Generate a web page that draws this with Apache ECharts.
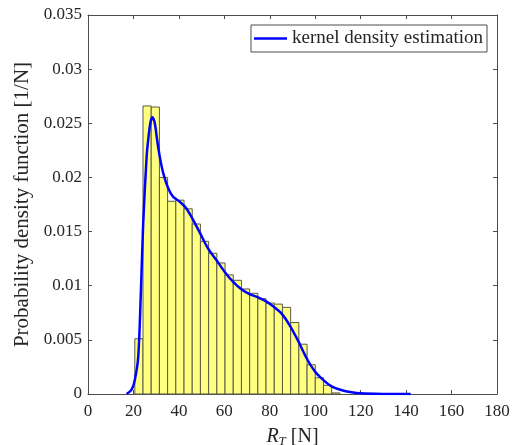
<!DOCTYPE html>
<html>
<head>
<meta charset="utf-8">
<script src="https://cdn.jsdelivr.net/npm/echarts@6/dist/echarts.min.js"></script>
<style>
  html, body { margin: 0; padding: 0; background: #fff; }
  #chart { width: 512px; height: 445px; }
</style>
</head>
<body>
<div id="chart"></div>
<script>
// histogram bins
const binStart = 20.6;
const binWidth = 3.61;
const binValues = [
  0.0051, 0.0266, 0.0265, 0.0200, 0.0178, 0.0179, 0.0171, 0.0157, 0.0141, 0.0130,
  0.0121, 0.0110, 0.0105, 0.0097, 0.0093, 0.0088, 0.0084, 0.0083, 0.0080, 0.0066,
  0.0046, 0.0027, 0.0015, 0.0008, 0.0001
];

// kernel density estimation curve
const kdeX = [17.0, 19.2, 20.6, 22.1, 23.3, 24.3, 25.8, 26.5, 27.5, 28.4, 29.4, 30.4, 31.6, 33.1,
  35.3, 37.5, 40.4, 43.3, 46.2, 49.2, 52.8, 56.5, 60.1, 63.8, 67.5, 71.1, 74.8, 78.4,
  82.1, 85.3, 88.9, 92.5, 96.2, 99.8, 103.5, 107.2, 111.4, 116.0, 120.0, 130.0, 142.0];
const kdeY = [0.0000, 0.0004, 0.0013, 0.0034, 0.0096, 0.0158, 0.0219, 0.0235, 0.0251, 0.02555, 0.0250, 0.0235, 0.0219, 0.0204,
  0.0190, 0.0182, 0.01776, 0.01714, 0.0161, 0.0149, 0.01345, 0.01237, 0.0113, 0.01037, 0.00967, 0.00923, 0.00893, 0.00855,
  0.0080, 0.0074, 0.0063, 0.0049, 0.0033, 0.0021, 0.0013, 0.0007, 0.00037, 0.00016, 0.00006, 0.00001, 0.0];

const xTicks = { min: 0, max: 180, interval: 20 };
const yTicks = { min: 0, max: 0.035, interval: 0.005 };

const font = 'Liberation Serif';
const axisColor = '#4d4d4d';
const textColor = '#262626';

const chart = echarts.init(document.getElementById('chart'));

const histData = binValues.map((v, i) => [binStart + i * binWidth, binStart + (i + 1) * binWidth, v]);
const kdeData = kdeX.map((x, i) => [x, kdeY[i]]);

// box axes with inside ticks, like matlab
const baseAxis = {
  axisLine: { show: true, onZero: false, lineStyle: { color: axisColor, width: 1 } },
  axisTick: { show: true, inside: true, length: 4, lineStyle: { color: axisColor } },
  splitLine: { show: false }
};

chart.setOption({
  animation: false,
  grid: { left: 88, right: 15, top: 15, bottom: 51, outerBoundsMode: 'none', containLabel: false },
  legend: {
    right: 25,
    top: 25,
    data: ['kernel density estimation'],
    icon: 'rect',
    itemWidth: 33,
    itemHeight: 2.5,
    itemGap: 4,
    padding: [4, 4, 4, 3],
    borderColor: axisColor,
    borderWidth: 1,
    borderRadius: 0,
    backgroundColor: '#fff',
    textStyle: { fontFamily: font, fontSize: 19, color: textColor, padding: [0, 0, 0, 0] }
  },
  xAxis: [
    Object.assign({}, baseAxis, {
      type: 'value',
      min: xTicks.min, max: xTicks.max, interval: xTicks.interval,
      axisLabel: { fontFamily: font, fontSize: 17, color: textColor, margin: 9 },
      name: '{i|R}{s|T} [N]',
      nameLocation: 'middle',
      nameGap: 32,
      nameTextStyle: {
        fontFamily: font, fontSize: 20, color: textColor,
        rich: {
          i: { fontFamily: font, fontStyle: 'italic', fontSize: 20, color: textColor },
          s: { fontFamily: font, fontStyle: 'italic', fontSize: 13, color: textColor, verticalAlign: 'bottom', padding: [9, 0, 0, 0] }
        }
      }
    }),
    Object.assign({}, baseAxis, {
      type: 'value', position: 'top',
      min: xTicks.min, max: xTicks.max, interval: xTicks.interval,
      axisLabel: { show: false }
    })
  ],
  yAxis: [
    Object.assign({}, baseAxis, {
      type: 'value',
      min: yTicks.min, max: yTicks.max, interval: yTicks.interval,
      axisLabel: {
        fontFamily: font, fontSize: 17, color: textColor, margin: 6,
        formatter: (v) => String(parseFloat(v.toFixed(3)))
      },
      name: 'Probability density function [1/N]',
      nameLocation: 'middle',
      nameGap: 54,
      nameTextStyle: { fontFamily: font, fontSize: 21, color: textColor }
    }),
    Object.assign({}, baseAxis, {
      type: 'value', position: 'right',
      min: yTicks.min, max: yTicks.max, interval: yTicks.interval,
      axisLabel: { show: false }
    })
  ],
  series: [
    {
      name: 'histogram',
      type: 'custom',
      xAxisIndex: 0,
      yAxisIndex: 0,
      data: histData,
      encode: { x: [0, 1], y: 2 },
      renderItem: (params, api) => {
        const p0 = api.coord([api.value(0), api.value(2)]);
        const p1 = api.coord([api.value(1), 0]);
        return {
          type: 'rect',
          shape: { x: p0[0], y: p0[1], width: p1[0] - p0[0], height: p1[1] - p0[1] },
          style: { fill: '#ffff80', stroke: '#5a5a4a', lineWidth: 1 }
        };
      }
    },
    {
      name: 'kernel density estimation',
      type: 'line',
      xAxisIndex: 0,
      yAxisIndex: 0,
      data: kdeData,
      symbol: 'none',
      smooth: 0.3,
      lineStyle: { color: '#0000ff', width: 2.5 },
      itemStyle: { color: '#0000ff' },
      z: 5
    }
  ]
});
</script>
</body>
</html>
